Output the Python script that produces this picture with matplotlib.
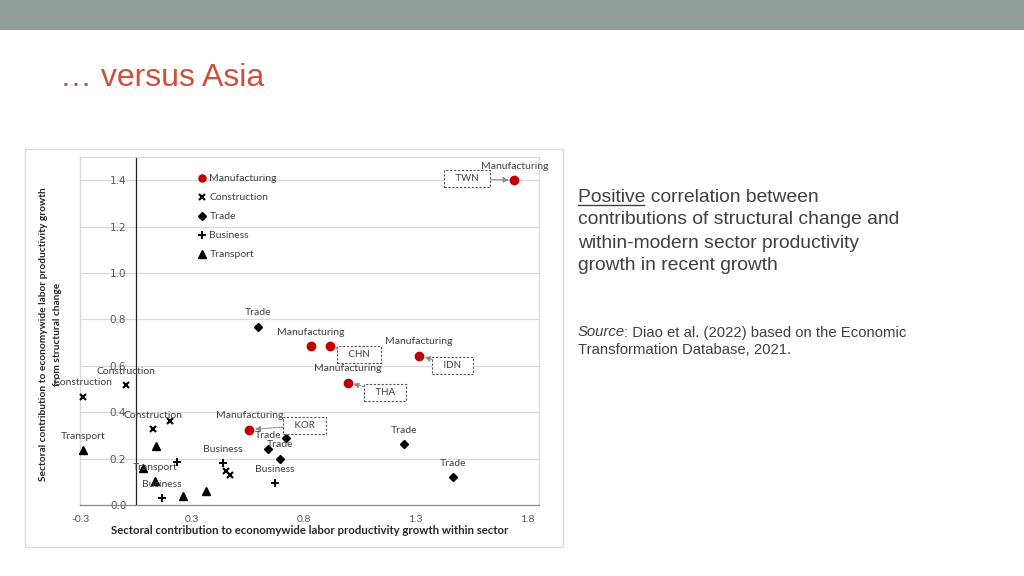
import matplotlib
matplotlib.use("Agg")
import matplotlib.pyplot as plt
from matplotlib.patches import Rectangle
from matplotlib.lines import Line2D

# ---------------- data ----------------
manu_x = [1.69, 0.78, 0.865, 1.265, 0.946, 0.506]
manu_y = [1.40, 0.684, 0.684, 0.644, 0.528, 0.325]
manu_lab = [1, 1, 0, 1, 1, 1]

cons_x = [-0.238, -0.043, 0.076, 0.153, 0.400, 0.421]
cons_y = [0.466, 0.517, 0.328, 0.360, 0.145, 0.129]
cons_lab = [1, 1, 1, 0, 0, 0]

trade_x = [0.545, 0.668, 0.589, 0.644, 1.195, 1.414]
trade_y = [0.768, 0.290, 0.240, 0.200, 0.261, 0.119]
trade_lab = [1, 0, 1, 1, 1, 1]

bus_x = [0.184, 0.390, 0.620, 0.116]
bus_y = [0.186, 0.180, 0.093, 0.029]
bus_lab = [0, 1, 1, 1]

trans_x = [-0.237, 0.088, 0.033, 0.085, 0.211, 0.3125]
trans_y = [0.237, 0.254, 0.160, 0.102, 0.037, 0.060]
trans_lab = [1, 0, 0, 1, 0, 0]

series_names = ["Manufacturing", "Construction", "Trade", "Business", "Transport"]

countries = ["TWN", "CHN", "IDN", "THA", "KOR"]
country_point = [0, 2, 3, 4, 5]          # index into manufacturing points

x_ticks = [-0.25, 0.25, 0.75, 1.25, 1.75]
x_tick_labels = ["-0.3", "0.3", "0.8", "1.3", "1.8"]
y_ticks = [0.0, 0.2, 0.4, 0.6, 0.8, 1.0, 1.2, 1.4]
y_tick_labels = ["0.0", "0.2", "0.4", "0.6", "0.8", "1.0", "1.2", "1.4"]

title = "\u2026 versus Asia"
x_title = "Sectoral contribution to economywide labor productivity growth within sector"
y_title = "Sectoral contribution to economywide labor productivity growth\nfrom structural change"
body_lines = ["Positive correlation between",
              "contributions of structural change and",
              "within-modern sector productivity",
              "growth in recent growth"]
source_lines = ["Diao et al. (2022) based on the Economic",
                "Transformation Database, 2021."]

# ---------------- layout helpers ----------------
W, H = 1024, 576
def fx(px):
    return px / W
def fy(py):
    return 1 - py / H

CH_FONT = "Lato"
SL_FONT = "Liberation Sans"
TXT = "#404040"

fig = plt.figure(figsize=(W / 100, H / 100), dpi=100)
fig.patch.set_facecolor("white")

# top bar
fig.add_artist(Rectangle((0, fy(30)), 1, 30 / H, transform=fig.transFigure,
                         facecolor="#8f9e98", edgecolor="none", zorder=-10))
# embedded chart frame
fig.add_artist(Rectangle((fx(25), fy(547)), (563 - 25) / W, (547 - 149) / H,
                         transform=fig.transFigure, facecolor="white",
                         edgecolor="#dcdcdc", lw=1.0, zorder=-10))

# title
fig.text(fx(60), fy(86), title, fontsize=23, color="#cf5038",
         family=SL_FONT, ha="left", va="baseline")

# right-hand text
BFS = 13.85
for i, line in enumerate(body_lines):
    fig.text(fx(578), fy(201.5 + 23 * i), line, fontsize=BFS, color=TXT,
             family=SL_FONT, ha="left", va="baseline")
renderer = fig.canvas.get_renderer()
meas = fig.text(fx(578), fy(201.5), "Positive", fontsize=BFS, family=SL_FONT,
                ha="left", va="baseline", alpha=0)
bb = meas.get_window_extent(renderer=renderer)
fig.add_artist(Line2D([fx(578), bb.x1 / W - 1 / W], [fy(204.5), fy(204.5)],
                      transform=fig.transFigure, color=TXT, lw=1.0))

SFS = 10.7
src = fig.text(fx(578), fy(336.5), "Source", fontsize=SFS, color=TXT,
               family=SL_FONT, style="italic", ha="left", va="baseline")
sb = src.get_window_extent(renderer=renderer)
fig.text(sb.x1 / W - 1.5 / W, fy(336.5), ": " + source_lines[0], fontsize=SFS,
         color=TXT, family=SL_FONT, ha="left", va="baseline")
fig.text(fx(578), fy(354.3), source_lines[1], fontsize=SFS, color=TXT,
         family=SL_FONT, ha="left", va="baseline")

# ---------------- scatter chart ----------------
ax = fig.add_axes([fx(80), fy(505), (539 - 80) / W, (505 - 157) / H])
ax.set_facecolor("white")
ax.set_xlim(-0.25, 1.80)
ax.set_ylim(0, 1.5)
ax.set_axisbelow(True)
ax.yaxis.grid(True, color="#d9d9d9", lw=0.9)

ax.set_xticks(x_ticks)
ax.set_xticklabels(x_tick_labels)
ax.set_yticks(y_ticks)
ax.set_yticklabels(y_tick_labels)
ax.tick_params(axis="both", length=0, labelsize=7.5, labelcolor="#595959")
ax.tick_params(axis="x", pad=7)
ax.tick_params(axis="y", pad=7)
for lab in ax.get_xticklabels() + ax.get_yticklabels():
    lab.set_family(CH_FONT)

ax.spines["left"].set_position(("data", 0))
ax.spines["left"].set_color("#222222")
ax.spines["left"].set_linewidth(0.9)
ax.spines["bottom"].set_color("#8a8a8a")
ax.spines["bottom"].set_linewidth(0.9)
ax.spines["top"].set_color("#d9d9d9")
ax.spines["right"].set_color("#d9d9d9")
ax.plot([0, 0], [0, 1], transform=ax.transAxes, color="#d9d9d9", lw=1.0,
        clip_on=False)

series = [
    (manu_x, manu_y, manu_lab, dict(marker="o", color="#c00000", ms=6)),
    (cons_x, cons_y, cons_lab, dict(marker="x", color="black", ms=4.5, mew=1.5)),
    (trade_x, trade_y, trade_lab, dict(marker="D", color="black", ms=4.5)),
    (bus_x, bus_y, bus_lab, dict(marker="+", color="black", ms=6, mew=1.4)),
    (trans_x, trans_y, trans_lab, dict(marker="^", color="black", ms=6)),
]
handles = []
for (xs, ys, labs, st), name in zip(series, series_names):
    ln, = ax.plot(xs, ys, ls="none", zorder=3, clip_on=False, **st)
    handles.append(ln)
    for x, y, lb in zip(xs, ys, labs):
        if lb:
            ax.annotate(name, (x, y), xytext=(0, 10), textcoords="offset points",
                        ha="center", va="center", fontsize=7.5, color=TXT,
                        family=CH_FONT, zorder=4, annotation_clip=False)

# country call-outs (offsets in points from the marker)
box_offsets = [(-34, 1), (21, -6), (24, -7), (27, -7), (40, 3)]
for code, idx, off in zip(countries, country_point, box_offsets):
    ax.annotate("   " + code + "   ", (manu_x[idx], manu_y[idx]), xytext=off,
                textcoords="offset points", ha="center", va="center",
                fontsize=7, color=TXT, family=CH_FONT, zorder=5,
                bbox=dict(boxstyle="square,pad=0.4", fc="white", ec="#555555",
                          ls=(0, (2, 1.5)), lw=0.8),
                arrowprops=dict(arrowstyle="-|>", color="#8c8c8c", lw=0.8,
                                linestyle=(0, (1.5, 1)), shrinkA=0, shrinkB=4,
                                mutation_scale=8))

leg = ax.legend(handles, series_names, loc="upper left",
                bbox_to_anchor=(fx(199), fy(174)), bbox_transform=fig.transFigure,
                frameon=False, handlelength=0.6, handletextpad=0.4,
                labelspacing=0.93, borderpad=0, borderaxespad=0,
                prop=dict(family=CH_FONT, size=7.5), markerscale=0.85)
for t in leg.get_texts():
    t.set_color(TXT)

# axis titles
fig.text(fx(310), fy(531), x_title, fontsize=8.2, fontweight="bold",
         family=CH_FONT, color="#262626", ha="center", va="center")
fig.text(fx(50.5), fy(334), y_title, fontsize=7.3, fontweight="bold",
         family=CH_FONT, color="#262626", ha="center", va="center",
         rotation=90, linespacing=1.75, multialignment="center")

fig.savefig("out.png", dpi=100)
